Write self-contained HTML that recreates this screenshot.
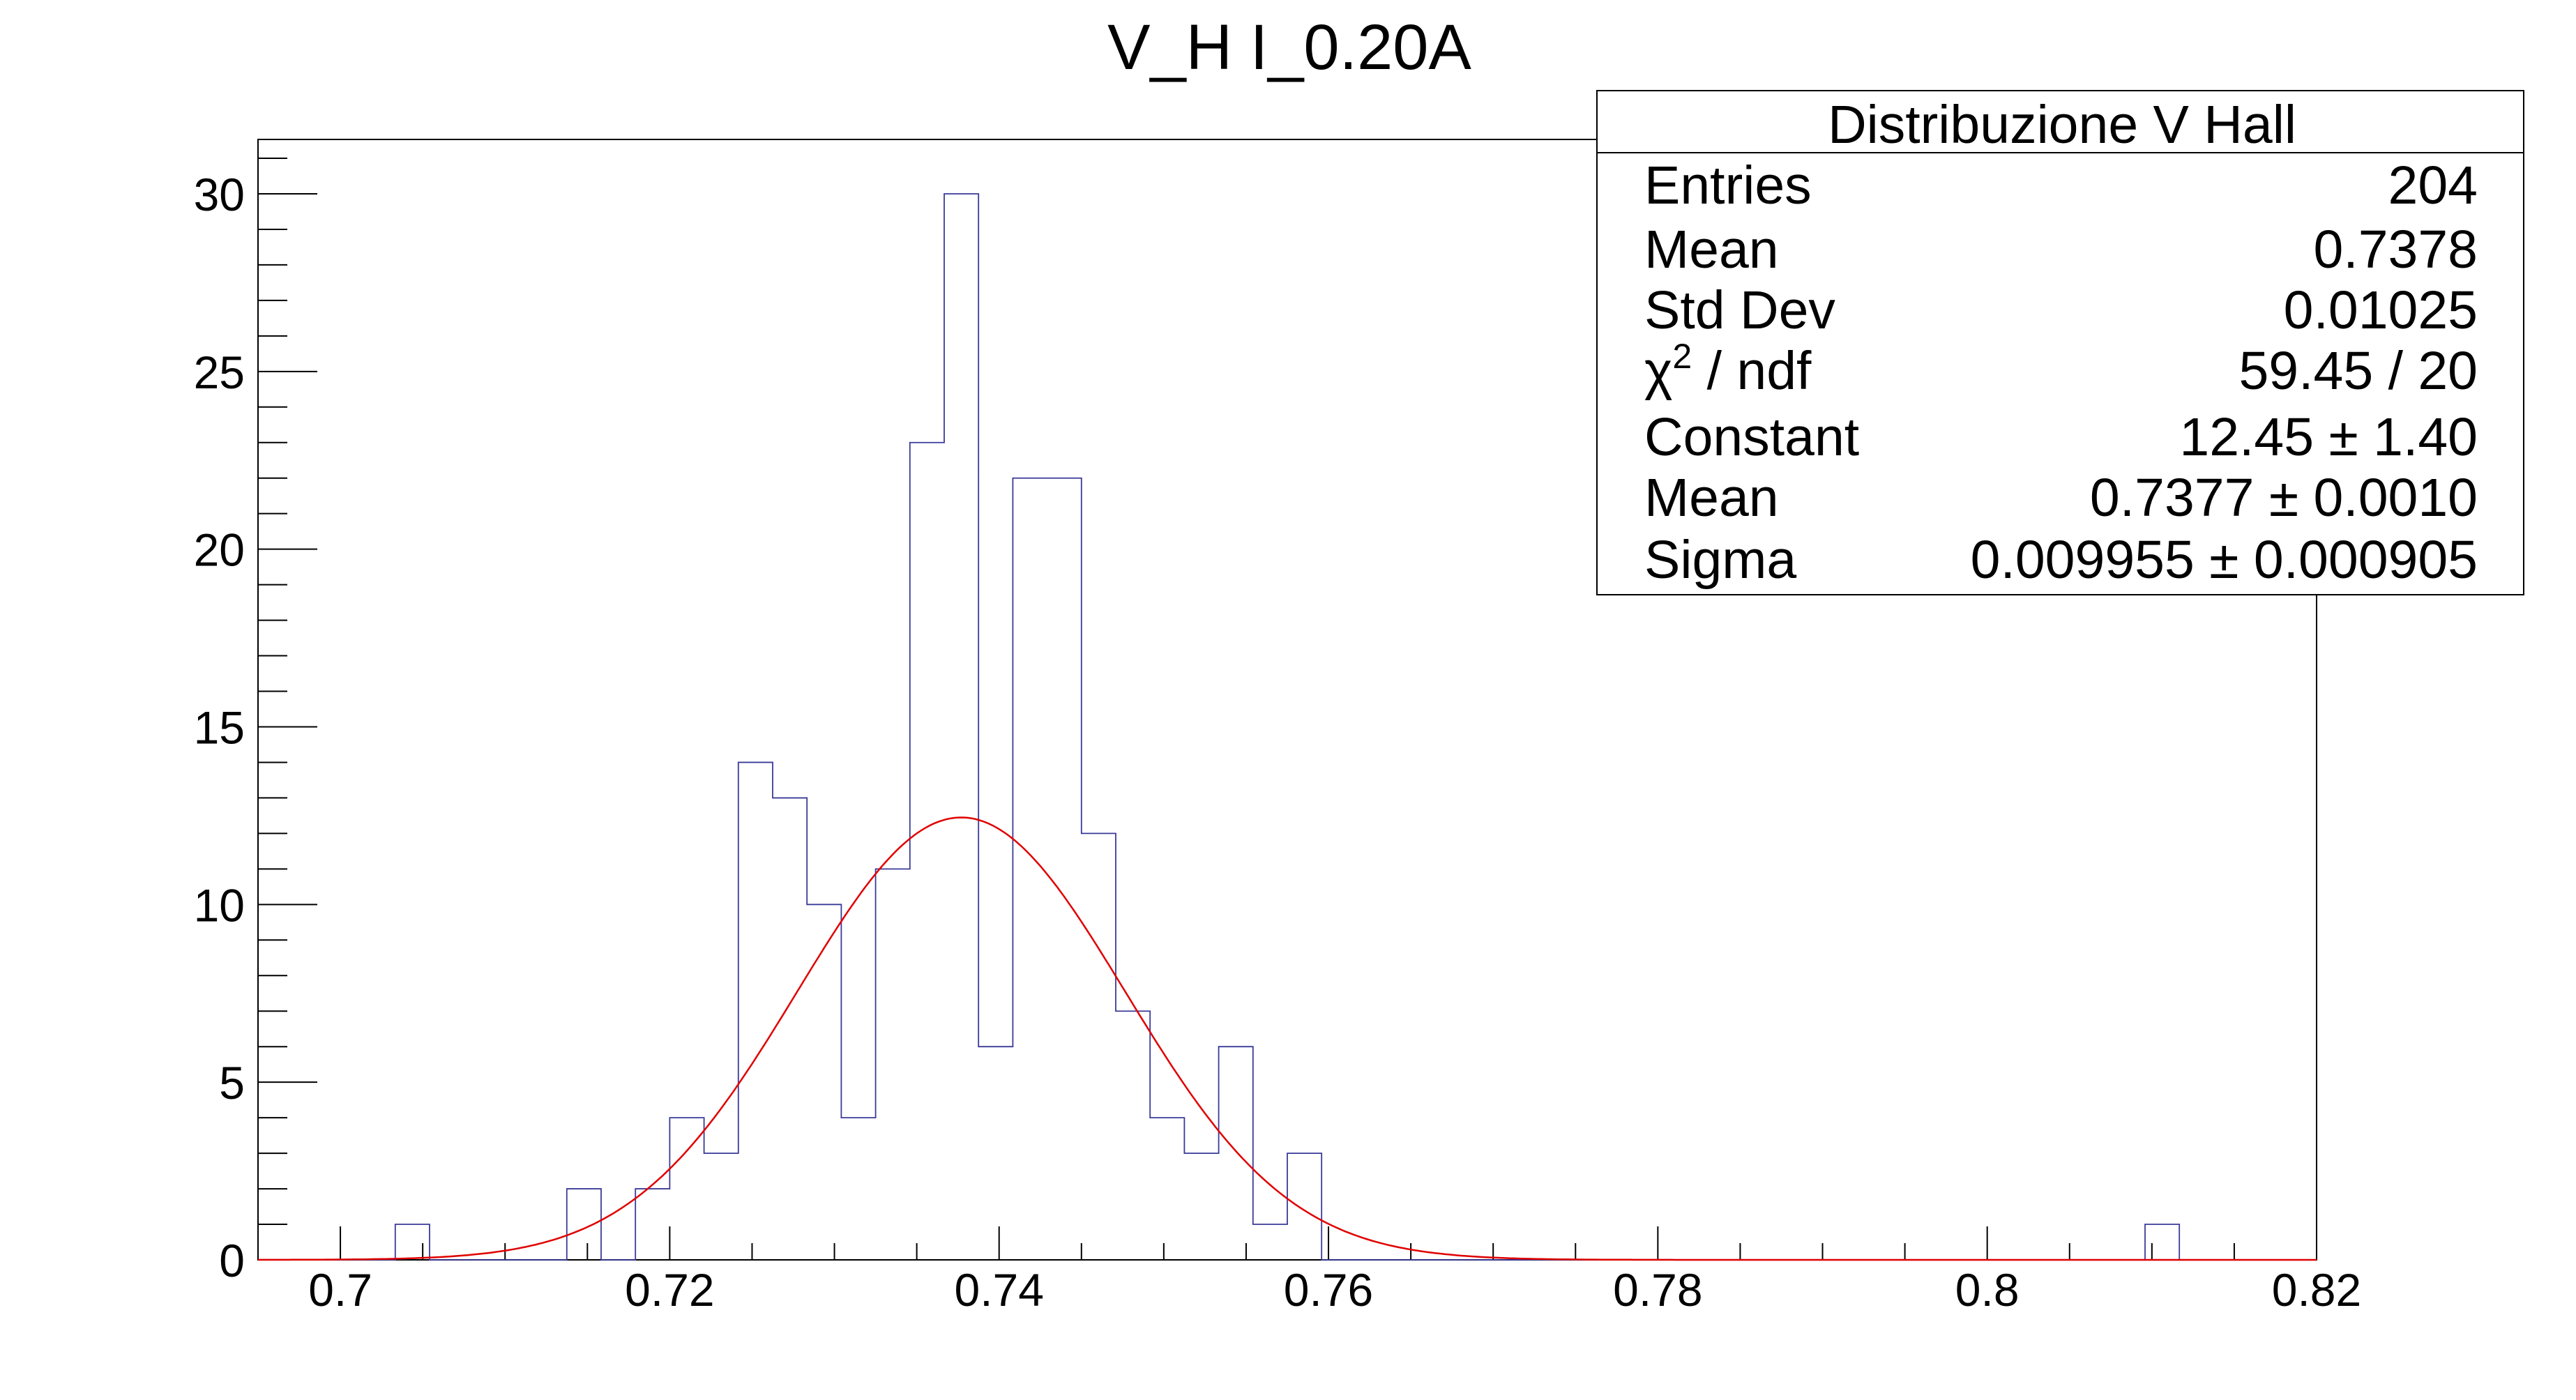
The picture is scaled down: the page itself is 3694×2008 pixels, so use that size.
<!DOCTYPE html>
<html><head><meta charset="utf-8"><style>html,body{margin:0;padding:0;background:#fff}svg{display:block}text{font-family:"Liberation Sans",Arial,sans-serif;fill:#000}</style></head>
<body>
<svg id="chart" width="3694" height="2008" viewBox="0 0 3694 2008" xmlns="http://www.w3.org/2000/svg">
<rect x="0" y="0" width="3694" height="2008" fill="#fff"/>
<text x="1849" y="99" font-size="92" text-anchor="middle">V_H I_0.20A</text>
<rect x="370" y="200" width="2952" height="1607" fill="none" stroke="#000" stroke-width="2"/>
<g id="xaxis"></g>
<g id="yaxis"></g>
<path id="hist" fill="none" stroke="#3a3a99" stroke-width="1.8"/>
<path id="fit" fill="none" stroke="#e00000" stroke-width="2.5"/>
<g>
<rect x="2290" y="130" width="1329" height="723" fill="#fff" stroke="#000" stroke-width="2"/>
<line x1="2290" y1="219" x2="3619" y2="219" stroke="#000" stroke-width="2"/>
<text x="2957" y="205" font-size="77" text-anchor="middle">Distribuzione V Hall</text>
<g font-size="77">
<text x="2358" y="292">Entries</text><text x="3553" y="292" text-anchor="end">204</text>
<text x="2358" y="384">Mean</text><text x="3553" y="384" text-anchor="end">0.7378</text>
<text x="2358" y="471">Std Dev</text><text x="3553" y="471" text-anchor="end">0.01025</text>
<text x="2358" y="558">χ<tspan font-size="50" dy="-30">2</tspan><tspan dy="30"> / ndf</tspan></text><text x="3553" y="558" text-anchor="end">59.45 / 20</text>
<text x="2358" y="653">Constant</text><text x="3553" y="653" text-anchor="end">12.45 ± 1.40</text>
<text x="2358" y="740">Mean</text><text x="3553" y="740" text-anchor="end">0.7377 ± 0.0010</text>
<text x="2358" y="829">Sigma</text><text x="3553" y="829" text-anchor="end">0.009955 ± 0.000905</text>
</g></g>
</svg>
<script>
const binCounts = [0,0,0,0,1,0,0,0,0,2,0,2,4,3,14,13,10,4,11,23,30,6,22,22,12,7,4,3,6,1,3,0,0,0,0,0,0,0,0,0,0,0,0,0,0,0,0,0,0,0,0,0,0,0,0,1,0,0,0,0];
const xRange = [0.695, 0.82];
const yRange = [0, 31.53];
const xTickLabels = ["0.7","0.72","0.74","0.76","0.78","0.8","0.82"];
const yTickLabels = ["0","5","10","15","20","25","30"];
const fitConstant = 12.45;
const fitMean = 0.7377;
const fitSigma = 0.009955;

const L=370,R=3322,T=200,B=1807;
const NS='http://www.w3.org/2000/svg';
function sx(v){return L+(v-xRange[0])/(xRange[1]-xRange[0])*(R-L);}
function sy(v){return B-(v-yRange[0])/(yRange[1]-yRange[0])*(B-T);}
function mk(tag,attrs,parent){const e=document.createElementNS(NS,tag);for(const k in attrs)e.setAttribute(k,attrs[k]);parent.appendChild(e);return e;}

const xg=document.getElementById('xaxis');
for(let v=0.7;v<=0.8201;v+=0.005){
  const major=Math.abs(Math.round(v*50)-v*50)<1e-6;
  const x=sx(v);
  const t=mk('line',{x1:x,x2:x,y1:B,y2:B-(major?48:24),stroke:'#000','stroke-width':2},xg);
  
  
}
xTickLabels.forEach(s=>{
  const e=mk('text',{x:sx(parseFloat(s)),y:1873,'font-size':66,'text-anchor':'middle'},xg);
  e.textContent=s;
  
  
});
const yg=document.getElementById('yaxis');
for(let v=0;v<=31;v++){
  const y=sy(v);
  const t=mk('line',{x1:L,x2:L+(v%5===0?85:42),y1:y,y2:y,stroke:'#000','stroke-width':2},yg);
  
  
}
yTickLabels.forEach(s=>{
  const e=mk('text',{x:351,y:sy(parseFloat(s))+24,'font-size':66,'text-anchor':'end'},yg);
  e.textContent=s;
  
  
});

const bw=(xRange[1]-xRange[0])/binCounts.length;
let d='M'+sx(xRange[0])+','+sy(0);
binCounts.forEach((c,i)=>{
  const x0=sx(xRange[0]+i*bw),x1=sx(xRange[0]+(i+1)*bw);
  d+=' L'+x0+','+sy(c)+' L'+x1+','+sy(c);
});
d+=' L'+sx(xRange[1])+','+sy(0);
document.getElementById('hist').setAttribute('d',d);

let f='';
for(let i=0;i<=600;i++){
  const x=xRange[0]+(xRange[1]-xRange[0])*i/600;
  const y=fitConstant*Math.exp(-0.5*Math.pow((x-fitMean)/fitSigma,2));
  f+=(i?' L':'M')+sx(x).toFixed(1)+','+sy(y).toFixed(1);
}
document.getElementById('fit').setAttribute('d',f);
</script>
</body></html>
